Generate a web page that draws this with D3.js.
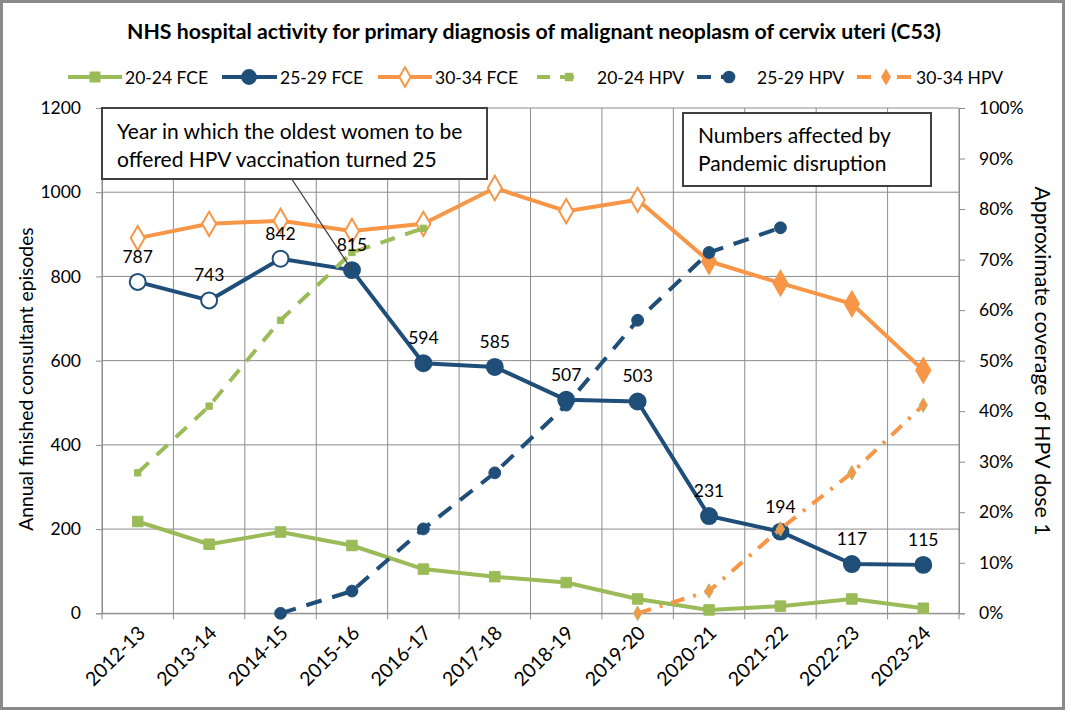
<!DOCTYPE html>
<html><head><meta charset="utf-8">
<script src="https://cdn.jsdelivr.net/npm/d3@7"></script>
<style>
html,body{margin:0;padding:0;background:#fff;}
svg text{font-family:Lato,"Open Sans",sans-serif;fill:#000;}
</style></head>
<body><svg id="c" width="1065" height="710"></svg>
<script>
const years = ["2012-13","2013-14","2014-15","2015-16","2016-17","2017-18","2018-19","2019-20","2020-21","2021-22","2022-23","2023-24"];
const fce2024 = [218,164,193,161,105,87,73,34,8,17,34,12];
const fce2529 = [787,743,842,815,594,585,507,503,231,194,117,115];
const fce3034 = [891,925,932,908,925,1010,955,982,836,784,735,577];
const hpv2024 = [27.8,41,58,71.4,76.2,null,null,null,null,null,null,null];
const hpv2529 = [null,null,0,4.4,16.7,27.8,41.2,58,71.4,76.3,null,null];
const hpv3034 = [null,null,null,null,null,null,null,0,4.4,16.7,27.8,41.2];
const leftTicks = [0,200,400,600,800,1000,1200];
const rightTicks = [0,10,20,30,40,50,60,70,80,90,100];
const title = "NHS hospital activity for primary diagnosis of malignant neoplasm of cervix uteri (C53)";
const note1 = ["Year in which the oldest women to be","offered HPV vaccination turned 25"];
const note2 = ["Numbers affected by","Pandemic disruption"];

const GREEN="#9BBB59", BLUE="#1F4E79", ORANGE="#F79646", GRID="#8c8c8c";
const svg = d3.select("#c");
const m = {l:102, r:959, t:108, b:613.3};
const x = d3.scaleBand().domain(years).range([m.l,m.r]);
const xc = d => x(d)+x.bandwidth()/2;
const yL = d3.scaleLinear().domain([0,1200]).range([m.b,m.t]);
const yR = d3.scaleLinear().domain([0,100]).range([m.b,m.t]);

// border
svg.append("rect").attr("x",1.5).attr("y",1.5).attr("width",1062).attr("height",707)
  .attr("fill","#fff").attr("stroke","#8a8a8a").attr("stroke-width",3);

// title
svg.append("text").attr("x",534).attr("y",39).attr("text-anchor","middle")
  .style("font-size","21.3px").style("font-weight","bold").text(title);

// gridlines
const g = svg.append("g");
g.selectAll("line.h").data(leftTicks).join("line")
  .attr("x1",m.l).attr("x2",m.r).attr("y1",d=>yL(d)).attr("y2",d=>yL(d))
  .attr("stroke",GRID).attr("stroke-width",1);
const bounds = years.map(d=>x(d)).concat([m.r]);
g.selectAll("line.v").data(bounds).join("line")
  .attr("x1",d=>d).attr("x2",d=>d).attr("y1",m.t).attr("y2",m.b)
  .attr("stroke",GRID).attr("stroke-width",1);

// axes
const axL = svg.append("g").attr("transform",`translate(${m.l},0)`)
  .call(d3.axisLeft(yL).tickValues(leftTicks).tickSize(6).tickPadding(15).tickFormat(d3.format("d")));
const axR = svg.append("g").attr("transform",`translate(${m.r},0)`)
  .call(d3.axisRight(yR).tickValues(rightTicks).tickSize(6).tickPadding(14).tickFormat(d=>d+"%"));
const axB = svg.append("g").attr("transform",`translate(0,${m.b})`)
  .call(d3.axisBottom(x).tickSize(0).tickFormat(""));
axB.selectAll("line.bt").data(bounds).join("line").attr("class","bt")
  .attr("x1",d=>d).attr("x2",d=>d).attr("y1",0).attr("y2",6).attr("stroke",GRID);
[axL,axR,axB].forEach(a=>{
  a.select(".domain").attr("stroke",GRID);
  a.selectAll(".tick line").attr("stroke",GRID);
  a.selectAll("text").style("font-size","17.5px").style("font-family","Lato").attr("fill","#000");
});
svg.append("g").selectAll("text").data(years).join("text")
  .attr("transform",d=>`translate(${xc(d)+4},${m.b+16}) rotate(-45)`)
  .attr("text-anchor","end").attr("dy","0.35em").style("font-size","19.5px").text(d=>d);

// axis titles
svg.append("text").attr("transform","translate(33,379) rotate(-90)").attr("text-anchor","middle")
  .style("font-size","19.3px").text("Annual finished consultant episodes");
svg.append("text").attr("transform","translate(1035,361) rotate(90)").attr("text-anchor","middle")
  .style("font-size","21.3px").text("Approximate coverage of HPV dose 1");

// series helpers
function drawLine(data, yS, color, dash){
  const ln = d3.line().defined(d=>d[1]!=null).x(d=>xc(d[0])).y(d=>yS(d[1]));
  svg.append("path").datum(years.map((y,i)=>[y,data[i]]))
    .attr("d",ln).attr("fill","none").attr("stroke",color).attr("stroke-width",4)
    .attr("stroke-linejoin","round").attr("stroke-dasharray",dash||null);
}
const sym = (type,size)=>d3.symbol().type(type).size(size)();
function drawMarkers(data, yS, type, size, fillF, strokeF, sw){
  svg.append("g").selectAll("path").data(years.map((y,i)=>[y,data[i],i]).filter(d=>d[1]!=null)).join("path")
    .attr("transform",d=>`translate(${xc(d[0])},${yS(d[1])})`)
    .attr("d",sym(type,size)).attr("fill",d=>fillF(d[2])).attr("stroke",d=>strokeF(d[2])).attr("stroke-width",sw);
}
// FCE
drawLine(fce2024,yL,GREEN);
drawMarkers(fce2024,yL,d3.symbolSquare,110,()=>GREEN,()=>GREEN,1);
drawLine(fce2529,yL,BLUE);
drawMarkers(fce2529,yL,d3.symbolCircle,200,i=>i<3?"#fff":BLUE,()=>BLUE,2);
drawLine(fce3034,yL,ORANGE);
drawMarkers(fce3034,yL,d3.symbolDiamond,170,i=>i<8?"#fff":ORANGE,()=>ORANGE,2);
// HPV
drawLine(hpv2024,yR,GREEN,"15,11");
drawMarkers(hpv2024,yR,d3.symbolSquare,40,()=>GREEN,()=>GREEN,1);
drawLine(hpv2529,yR,BLUE,"16,11");
drawMarkers(hpv2529,yR,d3.symbolCircle,110,()=>BLUE,()=>BLUE,1);
drawLine(hpv3034,yR,ORANGE,"14,9,3,9");
drawMarkers(hpv3034,yR,d3.symbolDiamond,60,()=>ORANGE,()=>"#b5b86a",1);

// data labels 25-29 FCE
svg.append("g").selectAll("text").data(fce2529).join("text")
  .attr("x",(d,i)=>xc(years[i])).attr("y",d=>yL(d)-19).attr("text-anchor","middle")
  .style("font-size","17.5px").text(d=>d);

// callouts
svg.append("line").attr("x1",291.7).attr("y1",179).attr("x2",xc(years[3])).attr("y2",yL(fce2529[3]))
  .attr("stroke","#404040").attr("stroke-width",1.3);
function box(x0,y0,w,h,lines,tx,ty){
  svg.append("rect").attr("x",x0).attr("y",y0).attr("width",w).attr("height",h)
    .attr("fill","#fff").attr("stroke","#404040").attr("stroke-width",2);
  svg.append("g").selectAll("text").data(lines).join("text")
    .attr("x",tx).attr("y",(d,i)=>ty+i*27.5).style("font-size","21px").text(d=>d);
}
box(102,108,385,71,note1,117,139);
box(683,113,248,73,note2,698,143);

// legend
const leg = [
  {t:"20-24 FCE",c:GREEN,s:d3.symbolSquare,sz:80,f:GREEN,dash:null,x1:68,x2:122,mx:95,tx:125},
  {t:"25-29 FCE",c:BLUE,s:d3.symbolCircle,sz:150,f:BLUE,dash:null,x1:222,x2:277,mx:249,tx:280},
  {t:"30-34 FCE",c:ORANGE,s:d3.symbolDiamond,sz:110,f:"#fff",dash:null,x1:378,x2:432,mx:405,tx:435},
  {t:"20-24 HPV",c:GREEN,s:d3.symbolSquare,sz:40,f:GREEN,dash:"13,10,14,100",x1:537,x2:578,mx:569,tx:597},
  {t:"25-29 HPV",c:BLUE,s:d3.symbolCircle,sz:90,f:BLUE,dash:"14,10,14,100",x1:697,x2:738,mx:729,tx:757},
  {t:"30-34 HPV",c:ORANGE,s:d3.symbolDiamond,sz:50,f:ORANGE,dash:"14,26,14,100",x1:857,x2:915,mx:886,tx:916}
];
const lg = svg.append("g").selectAll("g").data(leg).join("g");
lg.append("line").attr("x1",d=>d.x1).attr("x2",d=>d.x2).attr("y1",77).attr("y2",77)
  .attr("stroke",d=>d.c).attr("stroke-width",4).attr("stroke-dasharray",d=>d.dash);
lg.append("path").attr("transform",d=>`translate(${d.mx},77)`)
  .attr("d",d=>sym(d.s,d.sz)).attr("fill",d=>d.f).attr("stroke",d=>d.c).attr("stroke-width",2);
lg.append("text").attr("x",d=>d.tx).attr("y",83.5).style("font-size","17.5px").text(d=>d.t);
</script></body></html>
